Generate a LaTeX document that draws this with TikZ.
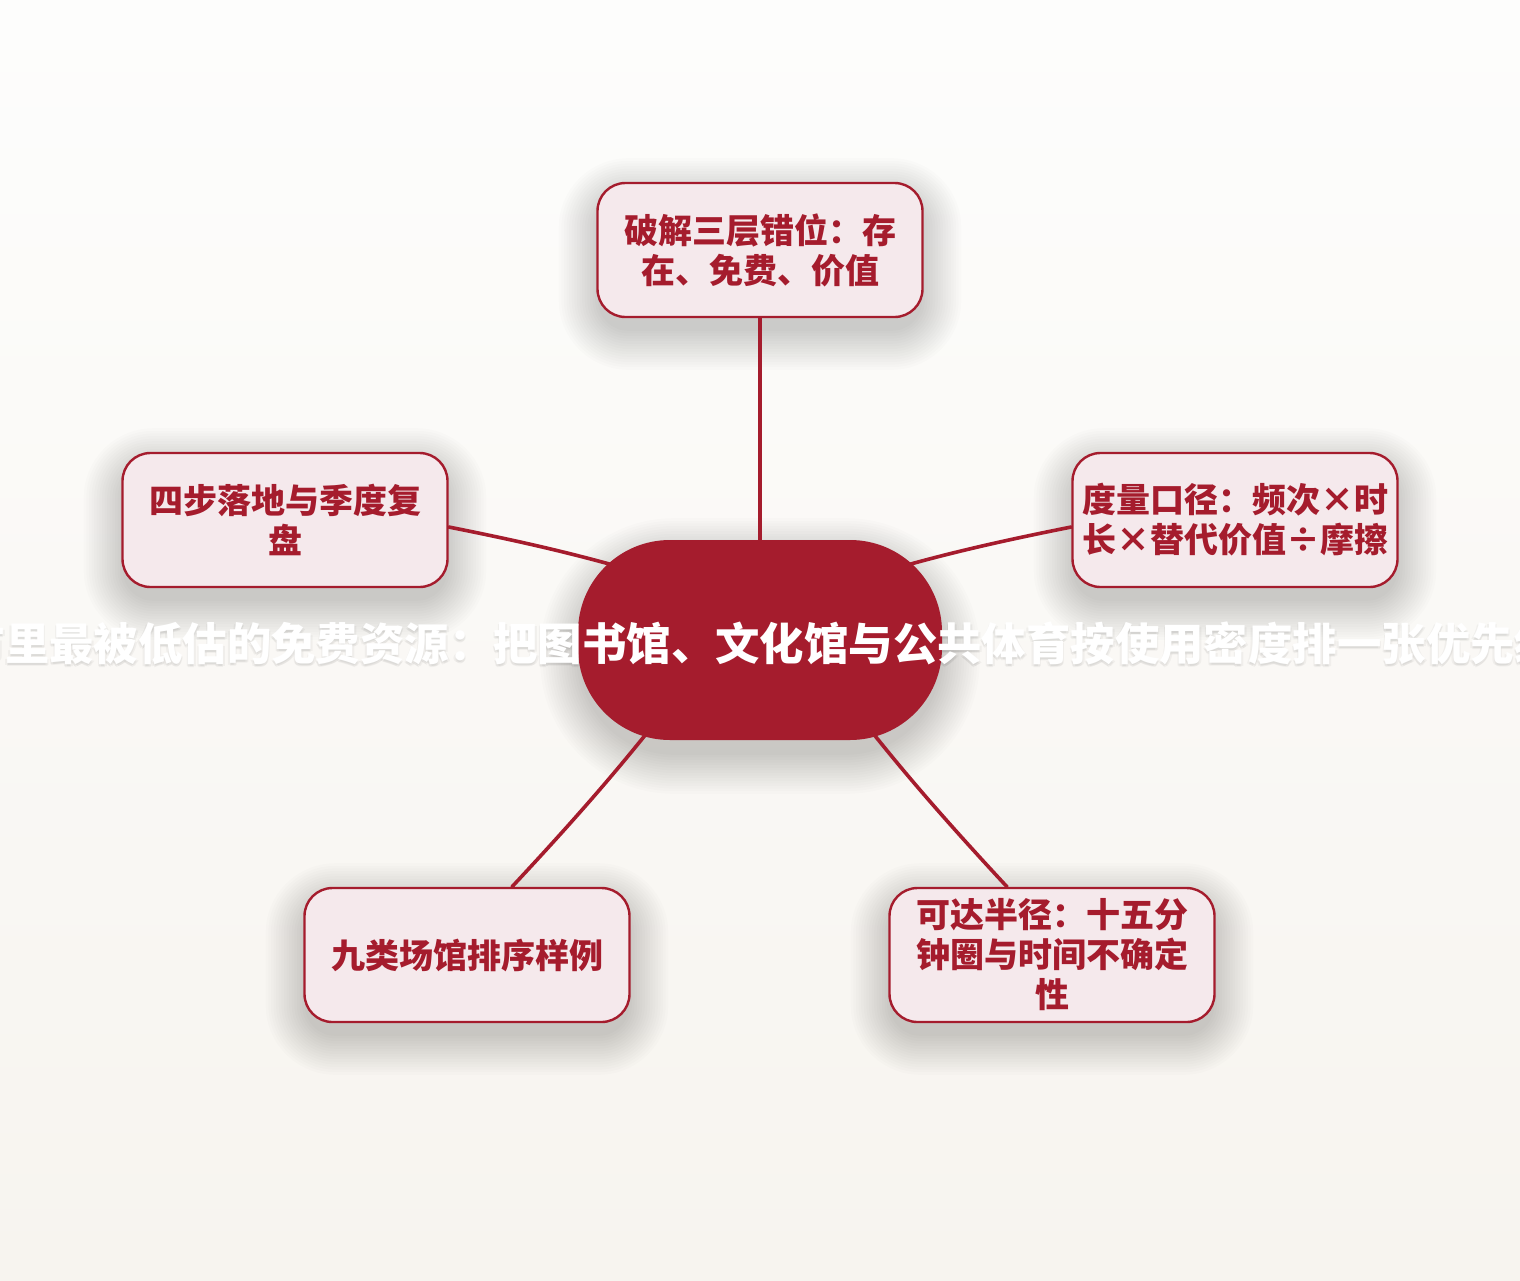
\documentclass[tikz,border=0pt]{standalone}
\usepackage{fontspec}
\newfontfamily\cjk{Noto Sans CJK SC}
\usetikzlibrary{calc}
\definecolor{maroon}{HTML}{A51C2D}
\definecolor{boxfill}{HTML}{F5E9EC}
\definecolor{bgtop}{HTML}{FDFDFC}
\definecolor{bgbot}{HTML}{F7F4EF}
\pgfdeclarelayer{bg}
\pgfdeclarelayer{lines}
\pgfsetlayers{bg,lines,main}
\tikzset{
  topic/.style={rectangle, rounded corners=28pt, minimum width=325pt, minimum height=134pt,
    draw=maroon, line width=2.4pt, fill=boxfill, text=maroon, align=center,
    font=\cjk\bfseries\fontsize{34}{40}\selectfont},
  hub/.style={rectangle, rounded corners=92pt, minimum width=364pt, minimum height=200pt,
    fill=maroon, draw=none},
  hubtext/.style={text=white, font=\cjk\bfseries\fontsize{44.4}{50}\selectfont, inner sep=0pt},
  link/.style={draw=maroon, line width=3.6pt, line cap=round}
}
\newcommand\titletext{市里最被低估的免费资源：把图书馆、文化馆与公共体育按使用密度排一张优先级}
\newcommand\softshadow[3]{%
  \foreach \d in {1,...,16}{%
    \pgfmathsetmacro\rr{#2+2.6*\d}%
    \pgfmathsetmacro\dd{2.6*\d-4}%
    \fill[black, opacity=0.0105, rounded corners=\rr pt]
      ($(#1.north west)+(-\dd,-\dd+#3)$) rectangle ($(#1.south east)+(\dd,\dd+#3)$);
  }}
\begin{document}
\begin{tikzpicture}[x=1pt, y=-1pt]
\useasboundingbox (0,0) rectangle (1520,1280);
\node[topic] (top) at (760,250) {破解三层错位：存\\在、免费、价值};
\node[topic] (right) at (1235,520) {度量口径：频次×时\\长×替代价值÷摩擦};
\node[topic] (left) at (285,520) {四步落地与季度复\\盘};
\node[topic] (bl) at (467,955) {九类场馆排序样例};
\node[topic] (br) at (1052,955) {可达半径：十五分\\钟圈与时间不确定\\性};
\node[hub] (center) at (760,640) {};
\coordinate (hubUp) at (760,612);
\coordinate (hubBL) at (719,640);
\coordinate (hubBR) at (801,640);
\begin{pgfonlayer}{bg}
\shade[top color=bgtop, bottom color=bgbot] (0,0) rectangle (1520,1280);
\softshadow{top}{28}{14}
\softshadow{right}{28}{14}
\softshadow{left}{28}{14}
\softshadow{bl}{28}{14}
\softshadow{br}{28}{14}
\softshadow{center}{92}{16}
\foreach \dx/\dy [count=\i] in {0/3, 1.5/2, -1.5/2}
  \node[hubtext, text=black, text opacity=0.04] (tsh\i) at ($(760,643)+(\dx,\dy)$) {\titletext};
\end{pgfonlayer}
\begin{pgfonlayer}{lines}
\draw[link] (top.south) -- (center.north);
\draw[link] ([yshift=-7pt]left.east) to[bend left=4] (hubUp);
\draw[link] ([yshift=-7pt]right.west) to[bend right=4] (hubUp);
\draw[link] ([xshift=45pt]bl.north) to[bend right=3] (hubBL);
\draw[link] ([xshift=-45pt]br.north) to[bend left=3] (hubBR);
\end{pgfonlayer}
\node[hubtext] (title) at (760,643) {\titletext};
\end{tikzpicture}
\end{document}
